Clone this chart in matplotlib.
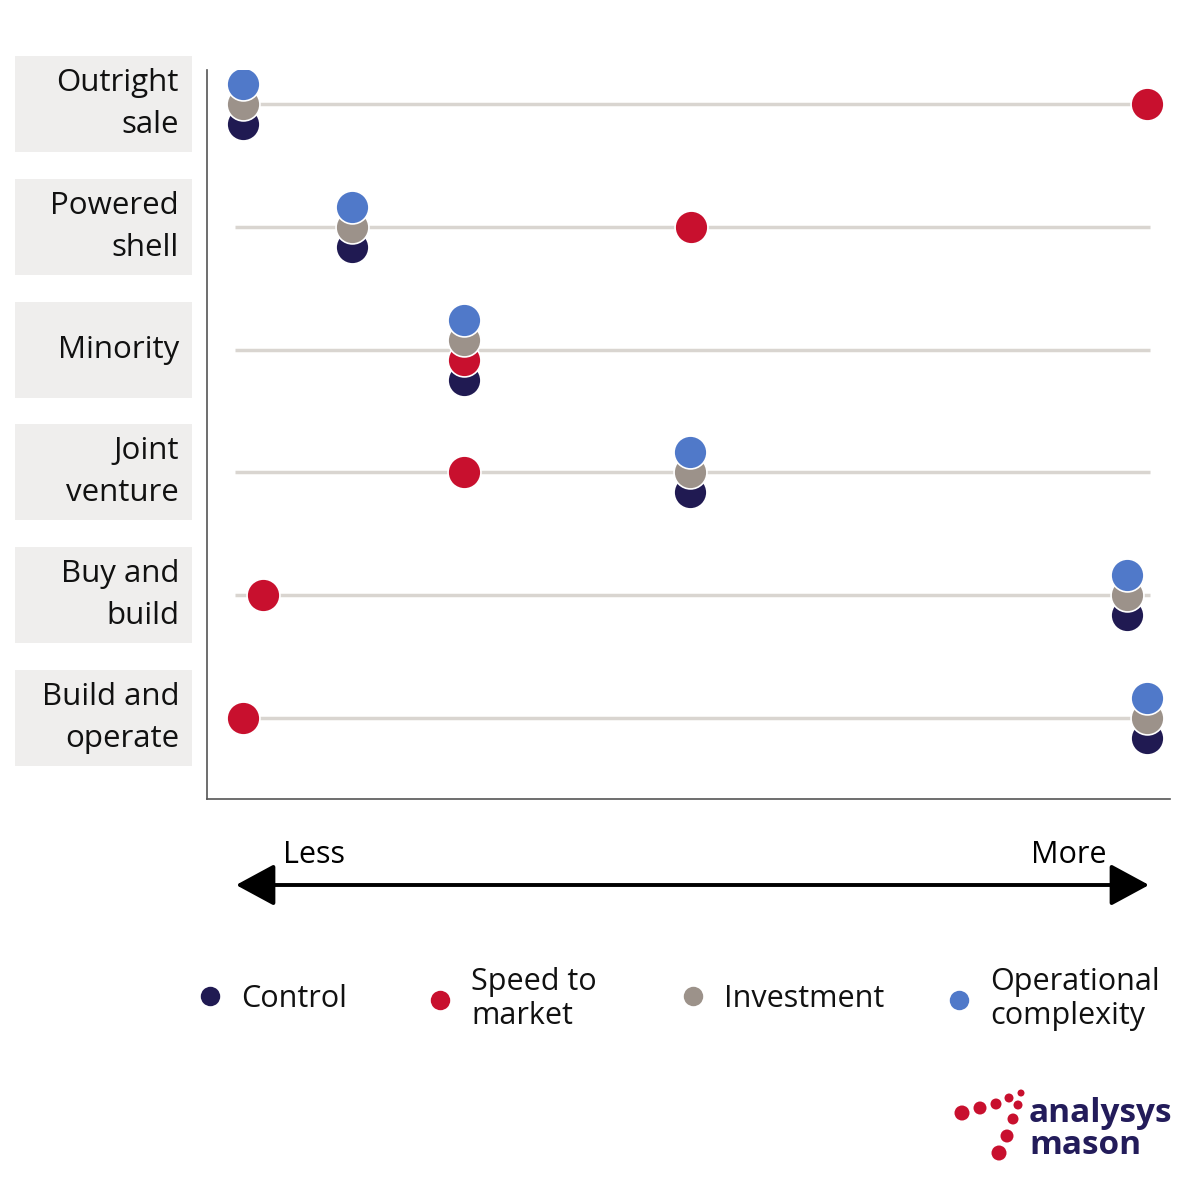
import matplotlib
matplotlib.use("Agg")
import matplotlib.pyplot as plt
from matplotlib.patches import Rectangle, Circle, FancyArrowPatch
from matplotlib.lines import Line2D
import matplotlib.transforms as mtransforms

plt.rcParams['font.family'] = ['Open Sans', 'DejaVu Sans']

# ---- data ----
categories = ["Outright\nsale", "Powered\nshell", "Minority", "Joint\nventure",
              "Buy and\nbuild", "Build and\noperate"]
series_names = ["Control", "Speed to\nmarket", "Investment", "Operational\ncomplexity"]
control = [0, 12.1, 24.4, 49.4, 97.7, 100]
speed = [100, 49.5, 24.4, 24.4, 2.2, 0]
investment = [0, 12.1, 24.4, 49.4, 97.7, 100]
complexity = [0, 12.1, 24.4, 49.4, 97.7, 100]
axis_labels = ["Less", "More"]

colors = {"Control": "#201a52", "Speed to\nmarket": "#c8102e",
          "Investment": "#9c928a", "Operational\ncomplexity": "#5079c9"}
series = {"Control": control, "Speed to\nmarket": speed,
          "Investment": investment, "Operational\ncomplexity": complexity}
# stacking order top -> bottom when values coincide
stack_order = ["Operational\ncomplexity", "Investment", "Speed to\nmarket", "Control"]
draw_order = ["Control", "Speed to\nmarket", "Investment", "Operational\ncomplexity"]

W, H = 1200, 1200
fig = plt.figure(figsize=(12, 12), dpi=100)
ax = fig.add_axes([207 / W, 1 - 799 / H, (1170 - 207) / W, (799 - 70) / H])

ylim = (5.66, -0.277)
ax.set_ylim(*ylim)
ax.set_xlim(-3.98, 102.5)
n = len(categories)
rows = list(range(n))

# grid lines
ax.hlines(rows, -0.9, 100.3, color="#d9d5d0", lw=2.5, zorder=1)

# vertical stacking offset (20 px) in data units
px_per_unit = (799 - 70) / abs(ylim[0] - ylim[1])
step = 20 / px_per_unit

handles = {}
positions = {}
for r in rows:
    groups = {}
    for name in stack_order:
        groups.setdefault(series[name][r], []).append(name)
    for xv, names in groups.items():
        k = len(names)
        for i, name in enumerate(names):
            positions[(name, r)] = (xv, r + (i - (k - 1) / 2) * step)

for z, name in enumerate(draw_order):
    for r in rows:
        x, y = positions[(name, r)]
        ax.scatter([x], [y], s=560, color=colors[name], edgecolor="white",
                   linewidth=1.2, zorder=3 + z)
    handles[name] = Line2D([], [], ls="none", marker="o", markersize=14,
                           markerfacecolor=colors[name], markeredgecolor="none")

for s in ["top", "right"]:
    ax.spines[s].set_visible(False)
for s in ["left", "bottom"]:
    ax.spines[s].set_color("#555555")
    ax.spines[s].set_linewidth(1.2)
ax.set_xticks([])
ax.set_yticks([])

# category label boxes
bt = mtransforms.blended_transform_factory(fig.transFigure, ax.transData)
box_h = 96 / px_per_unit
for r, lab in zip(rows, categories):
    ax.add_patch(Rectangle((15 / W, r - box_h / 2), (192 - 15) / W, box_h,
                           transform=bt, facecolor="#efeeed", edgecolor="none",
                           clip_on=False, zorder=0))
    ax.text(179 / W, r, lab, transform=bt, ha="right", va="center",
            fontsize=22.5, linespacing=1.52, color="#111111", clip_on=False)

# Less / More arrow
arrow = FancyArrowPatch((236 / W, 1 - 885 / H), (1149 / W, 1 - 885 / H),
                        transform=fig.transFigure,
                        arrowstyle="<|-|>,head_length=1.2,head_width=0.65",
                        mutation_scale=20, color="black", lw=2.8,
                        shrinkA=0, shrinkB=0)
fig.add_artist(arrow)
fig.text(283 / W, 1 - 855 / H, axis_labels[0], ha="left", va="center", fontsize=22)
fig.text(1106 / W, 1 - 855 / H, axis_labels[1], ha="right", va="center", fontsize=22)

# legend (one entry per anchor, matching reference spacing)
marker_x = [210, 440, 693, 959]
hl_px = 22 * 1.0 * 100 / 72
for name, mx in zip(draw_order, marker_x):
    leg = fig.legend([handles[name]], [name], loc="center left",
                     bbox_to_anchor=((mx - hl_px / 2) / W, 1 - 999 / H),
                     frameon=False, fontsize=22, handletextpad=0.52,
                     handlelength=1.0, borderpad=0, borderaxespad=0)
    for t in leg.get_texts():
        t.set_linespacing(1.17)
        t.set_color("#111111")

# logo
red = "#c8102e"
for (cx, cy, rr) in [(962, 1113, 7.5), (980, 1108, 6.5), (996, 1104, 5.5), (1009, 1098, 4.5),
                     (1021, 1093, 3.5), (1018, 1105, 4.5), (1013, 1119, 5.5), (1007, 1136, 6.5),
                     (999, 1153, 7.5)]:
    fig.add_artist(Circle((cx / W, 1 - cy / H), rr / W, transform=fig.transFigure,
                          facecolor=red, edgecolor="none"))
fig.text(1029 / W, 1 - 1113 / H, "analysys", ha="left", va="center", fontsize=24,
         fontweight="bold", color="#231c5a")
fig.text(1029 / W, 1 - 1145 / H, "mason", ha="left", va="center", fontsize=24,
         fontweight="bold", color="#231c5a")

fig.savefig("out.png", dpi=100, facecolor="white")
